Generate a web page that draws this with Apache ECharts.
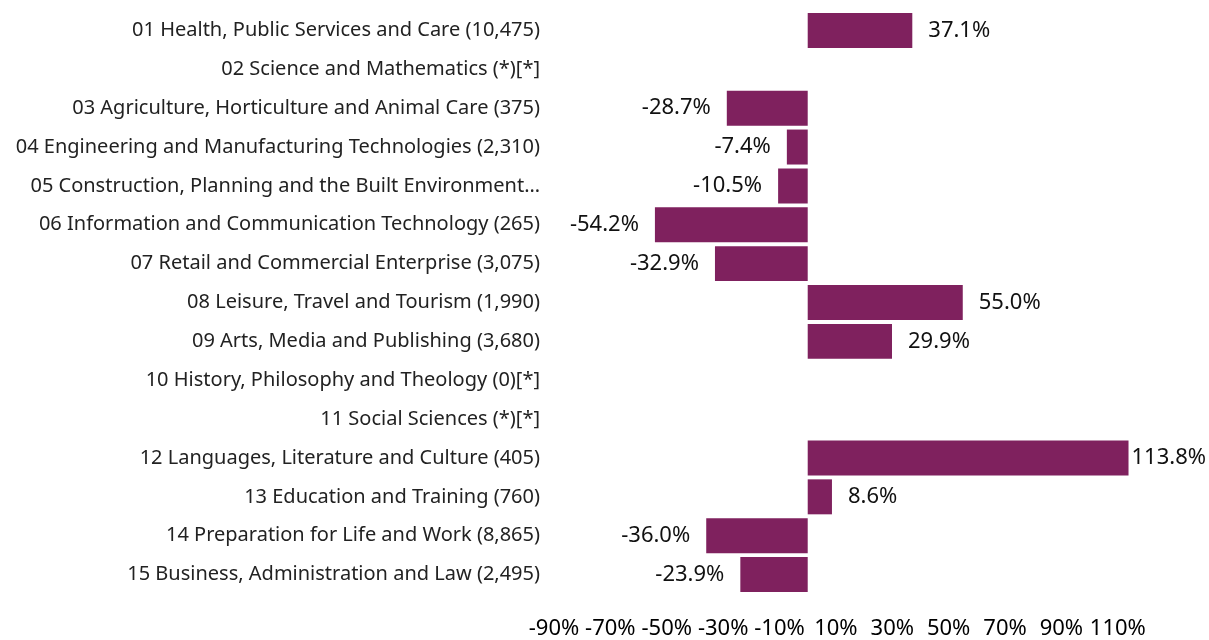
<!DOCTYPE html>
<html>
<head>
<meta charset="utf-8">
<script src="https://cdn.jsdelivr.net/npm/echarts@6/dist/echarts.min.js"></script>
<style>
html,body{margin:0;padding:0;background:#fff;}
#main{width:1209px;height:640px;}
</style>
</head>
<body>
<div id="main"></div>
<script>
// 分类（自上而下）
var categories = [
  '01 Health, Public Services and Care (10,475)',
  '02 Science and Mathematics (*)[*]',
  '03 Agriculture, Horticulture and Animal Care (375)',
  '04 Engineering and Manufacturing Technologies (2,310)',
  '05 Construction, Planning and the Built Environment…',
  '06 Information and Communication Technology (265)',
  '07 Retail and Commercial Enterprise (3,075)',
  '08 Leisure, Travel and Tourism (1,990)',
  '09 Arts, Media and Publishing (3,680)',
  '10 History, Philosophy and Theology (0)[*]',
  '11 Social Sciences (*)[*]',
  '12 Languages, Literature and Culture (405)',
  '13 Education and Training (760)',
  '14 Preparation for Life and Work (8,865)',
  '15 Business, Administration and Law (2,495)'
];
// 变化率 %
var changes = [37.1, null, -28.7, -7.4, -10.5, -54.2, -32.9, 55.0, 29.9, null, null, 113.8, 8.6, -36.0, -23.9];
// x轴刻度
var axisMin = -90, axisMax = 120, axisStep = 20;

var chart = echarts.init(document.getElementById('main'));
var font = '"Noto Sans", sans-serif';

var seriesData = changes.map(function (v) {
  if (v === null) return null;
  return {
    value: v,
    // 超出右侧的标签贴近柱子
    label: { position: v < 0 ? 'left' : 'right', distance: v > 100 ? 3 : 16 }
  };
});

var option = {
  animation: false,
  grid: { left: 554, right: 63, top: 11, bottom: 43, containLabel: false },
  xAxis: {
    type: 'value',
    min: axisMin,
    max: axisMax,
    interval: axisStep,
    splitLine: { show: false },
    axisLine: { show: false },
    axisTick: { show: false },
    axisLabel: {
      showMaxLabel: false,
      margin: 24,
      color: '#000',
      fontSize: 22,
      fontFamily: font,
      formatter: function (v) { return v + '%'; }
    }
  },
  yAxis: {
    type: 'category',
    inverse: true,
    data: categories,
    axisLine: { show: false },
    axisTick: { show: false },
    axisLabel: {
      margin: 14,
      color: '#222',
      fontSize: 20,
      fontFamily: font
    }
  },
  series: [{
    type: 'bar',
    data: seriesData,
    barCategoryGap: '10%',
    clip: false,
    itemStyle: { color: '#7F215E' },
    label: {
      show: true,
      color: '#111',
      fontSize: 22,
      fontFamily: font,
      formatter: function (p) { return p.value.toFixed(1) + '%'; }
    }
  }]
};
chart.setOption(option);
window.addEventListener('resize', function () { chart.resize(); });
</script>
</body>
</html>
